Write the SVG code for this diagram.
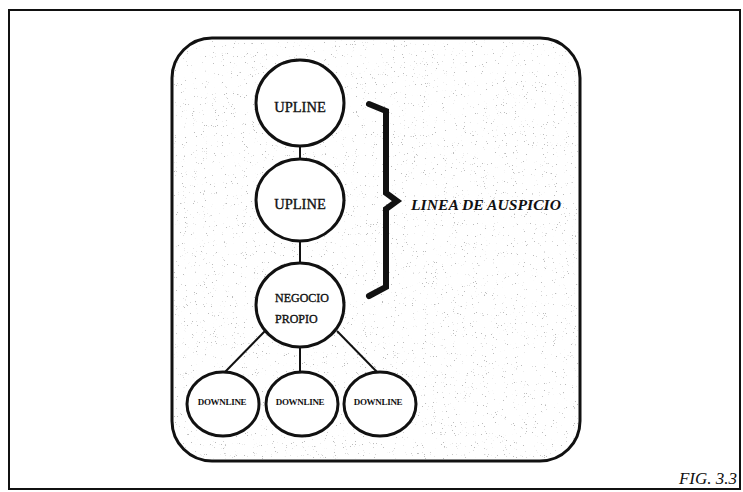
<svg xmlns="http://www.w3.org/2000/svg" width="743" height="492" viewBox="0 0 743 492">
  <defs>
    <!-- sparse speckle texture for the panel background -->
    <filter id="grain" x="0" y="0" width="100%" height="100%" filterUnits="objectBoundingBox">
      <feTurbulence type="fractalNoise" baseFrequency="0.9" numOctaves="2" seed="7" result="noise"/>
      <feColorMatrix in="noise" type="matrix" values="0 0 0 0 0.5  0 0 0 0 0.5  0 0 0 0 0.5  14 0 0 0 -9.9" result="dots"/>
      <feComposite in="dots" in2="SourceAlpha" operator="in"/>
    </filter>
    <style>
      .frame { fill: #fff; stroke: #111; stroke-width: 2; }
      .panel { fill: #fff; stroke: #111; stroke-width: 3; }
      .node { fill: #fff; stroke: #111; stroke-width: 3; }
      .link { stroke: #111; stroke-width: 2; fill: none; }
      .brace { stroke: #111; stroke-width: 6; fill: none; stroke-linecap: round; stroke-linejoin: miter; }
      .lbl { font-family: "Liberation Serif", "Times New Roman", serif; fill: #111; stroke: #111; stroke-width: 0.35; text-anchor: middle; }
      .big { font-size: 14.5px; }
      .mid { font-size: 12px; text-anchor: start; }
      .small { font-size: 9px; font-weight: bold; letter-spacing: -0.3px; stroke-width: 0; }
      .note { font-family: "Liberation Serif", "Times New Roman", serif; font-style: italic; fill: #111; }
    </style>
  </defs>

  <!-- outer frame -->
  <rect class="frame" x="9" y="10" width="731" height="479"/>

  <!-- rounded panel with speckled fill -->
  <rect class="panel" x="172" y="38" width="408" height="423" rx="40" ry="40"/>
  <rect x="174" y="40" width="404" height="419" rx="38" ry="38" fill="#000" filter="url(#grain)"/>

  <!-- connectors -->
  <g id="connectors">
    <line class="link" x1="300" y1="146" x2="300" y2="159"/>
    <line class="link" x1="300" y1="241" x2="300" y2="263"/>
    <line class="link" x1="265" y1="331" x2="225" y2="372"/>
    <line class="link" x1="300" y1="347" x2="300" y2="372"/>
    <line class="link" x1="337" y1="331" x2="377" y2="372"/>
  </g>

  <g id="upline-1">
    <ellipse class="node" cx="300" cy="103" rx="44" ry="43"/>
    <text class="lbl big" x="300" y="112">UPLINE</text>
  </g>

  <g id="upline-2">
    <ellipse class="node" cx="300" cy="200" rx="44" ry="41"/>
    <text class="lbl big" x="300" y="209">UPLINE</text>
  </g>

  <g id="negocio-propio">
    <ellipse class="node" cx="300" cy="305" rx="44" ry="42"/>
    <text class="lbl mid" x="275" y="302">NEGOCIO</text>
    <text class="lbl mid" x="275" y="323">PROPIO</text>
  </g>

  <g id="downline-1">
    <ellipse class="node" cx="223" cy="404" rx="36" ry="32"/>
    <text class="lbl small" x="222" y="405">DOWNLINE</text>
  </g>

  <g id="downline-2">
    <ellipse class="node" cx="302" cy="404" rx="36" ry="32"/>
    <text class="lbl small" x="300" y="405">DOWNLINE</text>
  </g>

  <g id="downline-3">
    <ellipse class="node" cx="380" cy="404" rx="36" ry="32"/>
    <text class="lbl small" x="378" y="405">DOWNLINE</text>
  </g>

  <!-- sponsorship brace and its label -->
  <g id="linea-de-auspicio">
    <path class="brace" d="M 369 104 L 386 111 L 386 193 L 397 201 L 386 209 L 386 287 L 369 296"/>
    <text class="note" x="411" y="210" font-size="15" font-weight="bold" textLength="150" lengthAdjust="spacingAndGlyphs">LINEA DE AUSPICIO</text>
  </g>

  <!-- figure number -->
  <text class="note" x="737" y="484" font-size="17" text-anchor="end">FIG. 3.3</text>
</svg>
